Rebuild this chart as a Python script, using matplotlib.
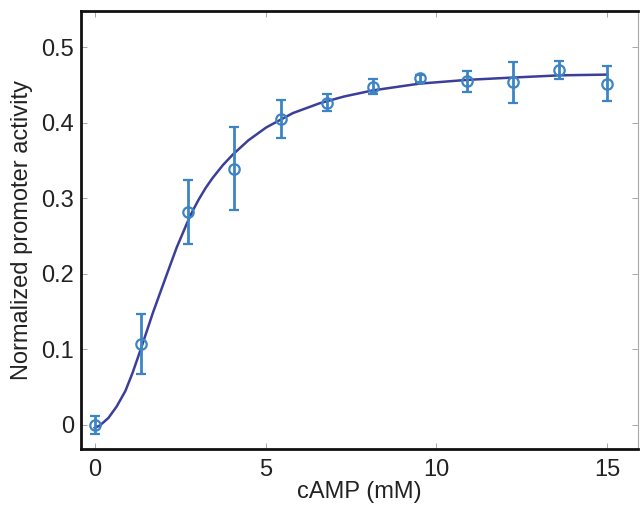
import matplotlib
matplotlib.use('Agg')
import matplotlib.pyplot as plt

plt.rcParams['font.family'] = ['Liberation Sans', 'DejaVu Sans']

# measured points
camp = [0, 1.36, 2.73, 4.09, 5.45, 6.8, 8.15, 9.53, 10.9, 12.25, 13.6, 15]
activity = [0.0, 0.107, 0.282, 0.339, 0.405, 0.427, 0.448, 0.459, 0.455, 0.454, 0.470, 0.452]
err = [0.012, 0.040, 0.042, 0.055, 0.025, 0.011, 0.010, 0.005, 0.014, 0.027, 0.012, 0.023]

# fitted curve
fit_x = [0, 0.15, 0.4, 0.64, 0.9, 1.11, 1.37, 1.7, 2.1, 2.4, 2.55, 2.69, 2.85, 3.05, 3.25,
         3.45, 3.75, 4.04, 4.5, 5.02, 5.8, 6.58, 7.3, 8.13, 9.5, 10.9, 12.2, 13.6, 15]
fit_y = [-0.004, -0.001, 0.009, 0.024, 0.045, 0.069, 0.103, 0.148, 0.198, 0.235, 0.251, 0.266,
         0.282, 0.299, 0.314, 0.327, 0.344, 0.358, 0.377, 0.394, 0.413, 0.426, 0.435, 0.443,
         0.452, 0.457, 0.460, 0.463, 0.464]

fig = plt.figure(figsize=(6.41, 5.09), dpi=100)
ax = fig.add_axes([0.1264, 0.118, 0.869, 0.860])

ax.plot(fit_x, fit_y, color='#3b3f98', lw=1.8, zorder=2)
ax.errorbar(camp, activity, yerr=err, fmt='o', mfc='none', mec='#3d84c4', ms=7.5, mew=1.6,
            ecolor='#3d84c4', elinewidth=2, capsize=3.5, capthick=2, zorder=3)

ax.set_xlim(-0.4, 15.9)
ax.set_ylim(-0.032, 0.548)
ax.set_xticks([0, 5, 10, 15])
ax.set_yticks([0, 0.1, 0.2, 0.3, 0.4, 0.5])
ax.set_yticklabels(['0', '0.1', '0.2', '0.3', '0.4', '0.5'])
ax.tick_params(direction='in', top=True, right=True, length=4, width=0.6,
               color='#999999', labelsize=17, labelcolor='#222222')
ax.tick_params(axis='x', pad=7)
ax.tick_params(axis='y', pad=5)

for s in ['left', 'bottom', 'top']:
    ax.spines[s].set_linewidth(2)
    ax.spines[s].set_color('#111111')
ax.spines['right'].set_linewidth(0.8)
ax.spines['right'].set_color('#aaaaaa')

ax.set_xlabel('cAMP (mM)', fontsize=17, color='#222222', labelpad=0)
ax.set_ylabel('Normalized promoter activity', fontsize=17, color='#222222', labelpad=6)

fig.savefig('out.png', dpi=100)
